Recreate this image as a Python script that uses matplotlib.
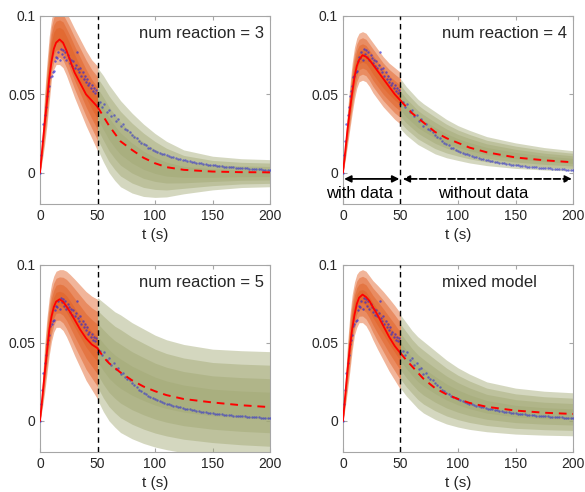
import matplotlib
matplotlib.use("Agg")
import matplotlib.pyplot as plt
import numpy as np

plt.rcParams['font.family'] = ['Liberation Sans', 'DejaVu Sans']

# observed data, same in every panel
obs_t_early = list(range(0, 51))
obs_y_early = [0.0, 0.011, 0.020, 0.031, 0.037, 0.042, 0.049, 0.052, 0.055, 0.061,
               0.062, 0.064, 0.065, 0.071, 0.074, 0.073, 0.077, 0.072, 0.079, 0.076,
               0.078, 0.074, 0.077, 0.072, 0.075, 0.073, 0.070, 0.072, 0.068, 0.071,
               0.067, 0.069, 0.077, 0.066, 0.064, 0.067, 0.062, 0.064, 0.060, 0.062,
               0.058, 0.060, 0.056, 0.057, 0.054, 0.056, 0.052, 0.054, 0.051, 0.053,
               0.044]
obs_t_late = list(range(52, 201, 2))
obs_y_late = [0.045, 0.042, 0.044, 0.039, 0.040, 0.036, 0.037, 0.033, 0.034, 0.030,
              0.031, 0.028, 0.027, 0.026, 0.024, 0.023, 0.022, 0.020, 0.019, 0.018,
              0.0175, 0.016, 0.0155, 0.0145, 0.0138, 0.0133, 0.0126, 0.012, 0.0116, 0.011,
              0.0106, 0.0101, 0.0097, 0.0093, 0.009, 0.0086, 0.0083, 0.0079, 0.0076, 0.0073,
              0.007, 0.0067, 0.0064, 0.0062, 0.0059, 0.0057, 0.0055, 0.0052, 0.005, 0.0048,
              0.0046, 0.0044, 0.0043, 0.0041, 0.0039, 0.0038, 0.0036, 0.0035, 0.0033, 0.0032,
              0.0031, 0.003, 0.0029, 0.0028, 0.0027, 0.0026, 0.0025, 0.0024, 0.0023, 0.0022,
              0.0021, 0.002, 0.0019, 0.0018, 0.0017]

# model time grids
t_fit = [0, 2, 4, 6, 8, 10, 12, 14, 17, 20, 23, 26, 30, 35, 40, 45, 50]
t_pred = [50, 55, 60, 65, 70, 80, 90, 100, 110, 125, 150, 175, 200]

# num reaction = 3
fit_mean_3 = [0, 0.016, 0.031, 0.045, 0.060, 0.071, 0.079, 0.083, 0.085, 0.083, 0.078, 0.072, 0.064, 0.057, 0.050, 0.046, 0.042]
fit_hi_3 = [0, 0.025, 0.050, 0.070, 0.087, 0.098, 0.104, 0.106, 0.107, 0.106, 0.102, 0.098, 0.092, 0.085, 0.078, 0.072, 0.068]
fit_lo_3 = [0, 0.008, 0.018, 0.030, 0.045, 0.060, 0.066, 0.069, 0.069, 0.067, 0.062, 0.056, 0.048, 0.039, 0.030, 0.022, 0.014]
pred_mean_3 = [0.042, 0.036, 0.030, 0.025, 0.020, 0.0145, 0.0095, 0.006, 0.0035, 0.0018, 0.0007, 0.0003, 0.0002]
pred_hi_3 = [0.067, 0.062, 0.056, 0.051, 0.046, 0.038, 0.031, 0.025, 0.020, 0.0145, 0.0105, 0.0089, 0.0083]
pred_lo_3 = [0.015, 0.007, 0.0, -0.005, -0.009, -0.013, -0.0152, -0.0158, -0.0155, -0.0135, -0.011, -0.0095, -0.009]

# num reaction = 4
fit_mean_4 = [0, 0.014, 0.028, 0.040, 0.051, 0.061, 0.068, 0.072, 0.075, 0.074, 0.072, 0.069, 0.065, 0.060, 0.055, 0.050, 0.046]
fit_hi_4 = [0, 0.020, 0.040, 0.056, 0.070, 0.080, 0.086, 0.089, 0.090, 0.089, 0.086, 0.083, 0.079, 0.074, 0.070, 0.067, 0.064]
fit_lo_4 = [0, 0.008, 0.018, 0.028, 0.038, 0.047, 0.054, 0.058, 0.059, 0.058, 0.055, 0.051, 0.047, 0.042, 0.038, 0.034, 0.031]
pred_mean_4 = [0.046, 0.042, 0.038, 0.035, 0.032, 0.026, 0.022, 0.019, 0.016, 0.013, 0.0097, 0.0079, 0.0066]
pred_hi_4 = [0.060, 0.055, 0.051, 0.047, 0.044, 0.039, 0.034, 0.030, 0.027, 0.023, 0.019, 0.016, 0.014]
pred_lo_4 = [0.028, 0.024, 0.021, 0.018, 0.016, 0.012, 0.0095, 0.0078, 0.0062, 0.0045, 0.0027, 0.0017, 0.001]

# num reaction = 5
fit_mean_5 = [0, 0.015, 0.030, 0.044, 0.058, 0.067, 0.073, 0.0765, 0.078, 0.0765, 0.0735, 0.070, 0.065, 0.0585, 0.053, 0.049, 0.0466]
fit_hi_5 = [0, 0.025, 0.048, 0.066, 0.079, 0.088, 0.093, 0.096, 0.097, 0.097, 0.096, 0.094, 0.091, 0.087, 0.083, 0.080, 0.078]
fit_lo_5 = [0, 0.008, 0.018, 0.030, 0.042, 0.051, 0.057, 0.060, 0.060, 0.058, 0.054, 0.049, 0.042, 0.034, 0.026, 0.020, 0.014]
pred_mean_5 = [0.0466, 0.041, 0.037, 0.034, 0.031, 0.026, 0.022, 0.019, 0.0165, 0.014, 0.0118, 0.010, 0.0088]
pred_hi_5 = [0.079, 0.076, 0.073, 0.070, 0.068, 0.063, 0.059, 0.055, 0.052, 0.049, 0.046, 0.045, 0.0444]
pred_lo_5 = [0.0135, 0.006, 0.0, -0.004, -0.0075, -0.0115, -0.0145, -0.0168, -0.0185, -0.0205, -0.0225, -0.024, -0.025]

# mixed model
fit_mean_m = [0, 0.017, 0.033, 0.047, 0.059, 0.068, 0.075, 0.079, 0.081, 0.0795, 0.077, 0.073, 0.068, 0.061, 0.054, 0.048, 0.0434]
fit_hi_m = [0, 0.026, 0.050, 0.068, 0.081, 0.089, 0.094, 0.096, 0.097, 0.096, 0.093, 0.090, 0.087, 0.083, 0.0786, 0.074, 0.069]
fit_lo_m = [0, 0.009, 0.020, 0.032, 0.045, 0.055, 0.060, 0.063, 0.063, 0.061, 0.057, 0.052, 0.046, 0.039, 0.032, 0.026, 0.020]
pred_mean_m = [0.0434, 0.039, 0.035, 0.031, 0.027, 0.021, 0.017, 0.014, 0.0115, 0.009, 0.0066, 0.0052, 0.0044]
pred_hi_m = [0.068, 0.063, 0.058, 0.054, 0.051, 0.045, 0.039, 0.034, 0.030, 0.025, 0.021, 0.019, 0.018]
pred_lo_m = [0.021, 0.016, 0.012, 0.008, 0.005, 0.001, -0.002, -0.004, -0.0055, -0.007, -0.0085, -0.0092, -0.0096]

titles = ["num reaction = 3", "num reaction = 4", "num reaction = 5", "mixed model"]

panels = [
    (fit_mean_3, fit_hi_3, fit_lo_3, pred_mean_3, pred_hi_3, pred_lo_3),
    (fit_mean_4, fit_hi_4, fit_lo_4, pred_mean_4, pred_hi_4, pred_lo_4),
    (fit_mean_5, fit_hi_5, fit_lo_5, pred_mean_5, pred_hi_5, pred_lo_5),
    (fit_mean_m, fit_hi_m, fit_lo_m, pred_mean_m, pred_hi_m, pred_lo_m),
]

LAYERS = [1.0, 0.75, 0.5, 0.25]
ORANGE = (0.88, 0.36, 0.12)
OLIVE = (0.63, 0.66, 0.45)
TXT = "#262626"


def draw_band(ax, t, lo, hi, color, alpha):
    t = np.asarray(t)
    lo = np.asarray(lo)
    hi = np.asarray(hi)
    mid = (lo + hi) / 2
    for f in LAYERS:
        ax.fill_between(t, mid - f * (mid - lo), mid + f * (hi - mid),
                        color=color, alpha=alpha, lw=0, zorder=2)


def format_axes(ax):
    ax.set_xlim(0, 200)
    ax.set_ylim(-0.02, 0.1)
    ax.set_xticks([0, 50, 100, 150, 200])
    ax.set_yticks([0, 0.05, 0.1])
    ax.set_yticklabels(["0", "0.05", "0.1"])
    for spine in ax.spines.values():
        spine.set_color("#a6a6a6")
        spine.set_linewidth(0.8)
    ax.tick_params(direction="in", top=True, right=True, length=3,
                   color="#a6a6a6", labelcolor=TXT, labelsize=10)
    ax.set_xlabel("t (s)", fontsize=11, color=TXT, labelpad=4)


fig = plt.figure(figsize=(5.85, 4.92), dpi=100)
positions = [
    [0.0684, 0.5854, 0.3932, 0.3821],
    [0.5863, 0.5854, 0.3932, 0.3821],
    [0.0684, 0.0813, 0.3932, 0.3801],
    [0.5863, 0.0813, 0.3932, 0.3801],
]

for k, (pos, title, data) in enumerate(zip(positions, titles, panels)):
    fm, fh, fl, pm, ph, pl = data
    ax = fig.add_axes(pos)
    draw_band(ax, t_fit, fl, fh, ORANGE, 0.45)
    draw_band(ax, t_pred, pl, ph, OLIVE, 0.45)
    ax.plot(obs_t_early, obs_y_early, ".", color="#2828d8", ms=3.5, alpha=0.65, mec="none", zorder=3)
    ax.plot(obs_t_late, obs_y_late, ".", color="#3030d0", ms=3.5, alpha=0.6, mec="none", zorder=3)
    ax.plot(t_fit, fm, "-", color="red", lw=1.3, zorder=4)
    ax.plot(t_pred, pm, "--", color="red", lw=1.4, dashes=(4, 3), zorder=4)
    ax.axvline(50, color="black", lw=1.0, ls="--", dashes=(4, 3), zorder=5)
    ax.text(86, 0.089, title, fontsize=12, color=TXT, ha="left", va="center", zorder=6)
    format_axes(ax)

    if k == 1:
        ax.annotate("", xy=(1, -0.004), xytext=(49, -0.004),
                    arrowprops=dict(arrowstyle="<|-|>", color="black", lw=1.3,
                                    mutation_scale=10, shrinkA=0, shrinkB=0), zorder=6)
        ax.annotate("", xy=(52, -0.004), xytext=(199, -0.004),
                    arrowprops=dict(arrowstyle="<|-|>", color="black", lw=1.3, ls="--",
                                    mutation_scale=10, shrinkA=0, shrinkB=0), zorder=6)
        ax.text(14.5, -0.0133, "with data", fontsize=12, color="black",
                ha="center", va="center", clip_on=False, zorder=6)
        ax.text(122, -0.0133, "without data", fontsize=12, color="black",
                ha="center", va="center", zorder=6)

fig.savefig("out.png", dpi=100)
